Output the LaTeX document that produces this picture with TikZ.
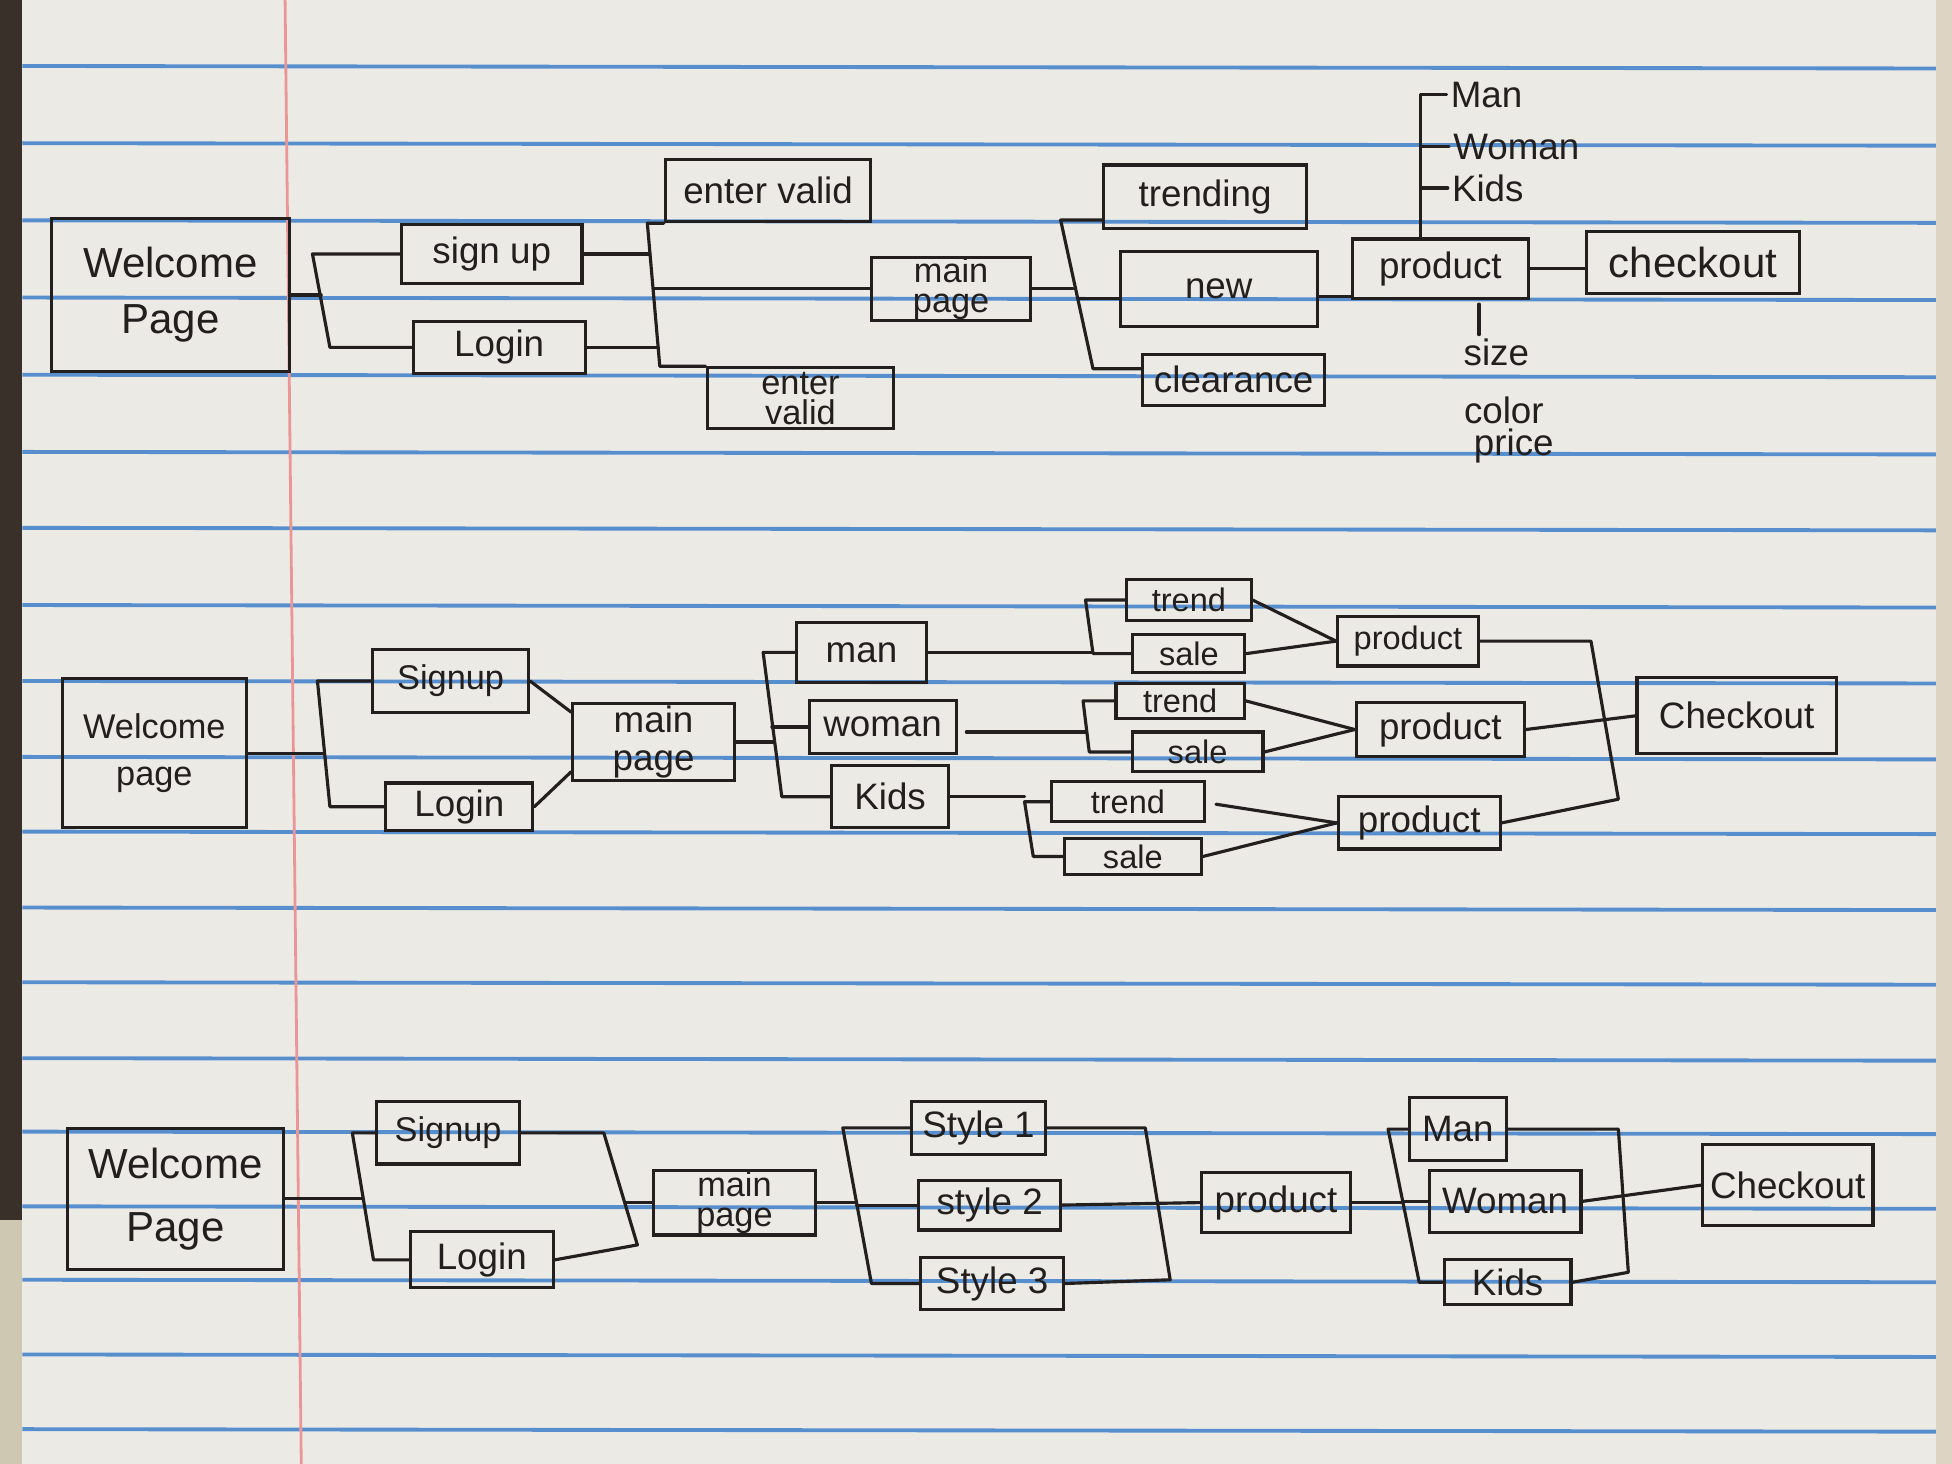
\documentclass[tikz,border=0pt]{standalone}
\usepackage{fontspec}
\setmainfont{Liberation Sans}
\usetikzlibrary{calc}
\definecolor{paper}{RGB}{236,234,229}
\definecolor{ink}{RGB}{34,31,30}
\definecolor{rulecol}{RGB}{86,142,206}
\definecolor{margincol}{RGB}{234,150,150}
\definecolor{edgedark}{RGB}{58,48,42}
\definecolor{edgelight}{RGB}{206,200,178}
\definecolor{edgeright}{RGB}{222,212,196}
\begin{document}
\begin{tikzpicture}[x=0.0125cm,y=-0.0125cm,
  box/.style={draw=ink, line width=0.9pt, align=center, inner sep=0pt, text=ink,
              font=\fontsize{10.5}{11}\selectfont},
  sz/.style 2 args={minimum width=#1*0.0125cm, minimum height=#2*0.0125cm},
  big/.style={font=\fontsize{12}{14}\selectfont},
  mid/.style={font=\fontsize{9.8}{10.5}\selectfont},
  two/.style={font=\fontsize{9.8}{8.6}\selectfont},
  small/.style={font=\fontsize{9.3}{10}\selectfont},
  lbl/.style={text=ink, inner sep=1pt, font=\fontsize{10.5}{12}\selectfont},
  conn/.style={draw=ink, line width=0.9pt, line join=round, line cap=round},
  ruled/.style={draw=rulecol, line width=1.1pt}]
\useasboundingbox (0,0) rectangle (1568,1176);
% ---------- paper ----------
\fill[paper] (0,0) rectangle (1568,1176);
\fill[edgedark] (0,0) rectangle (18,980);
\fill[edgelight] (0,980) rectangle (18,1176);
\fill[edgeright] (1555,0) rectangle (1568,1176);
\foreach \yy in {53,115,177,239,301,363,424,486,547,608,668,729,789,850,909,969,1028,1088,1148}
  \draw[ruled] (18,\yy) -- (1555,\yy+2);
\draw[margincol, line width=0.8pt] (229,0) -- (242,1176);

% ================= ROW 1 =================
\node[box,big,sz={191}{123}] (wel1) at (137,237) {Welcome\\[2pt]Page};
\node[box,sz={145}{48}] (su1) at (395,204) {sign up};
\node[box,sz={138}{42}] (li1) at (401,279) {Login};
\node[box,sz={165}{50}] (ev1) at (617,153) {enter valid};
\node[box,two,sz={150}{49}] (ev2) at (643,320) {enter\\valid};
\node[box,two,sz={128}{51}] (mp1) at (764,232) {main\\page};
\node[box,sz={163}{51}] (tr1) at (968,158) {trending};
\node[box,sz={158}{60}] (nw1) at (979,232) {new};
\node[box,sz={146}{41}] (cl1) at (991,305) {clearance};
\node[box,sz={141}{48}] (pr1) at (1157,216) {product};
\node[box,big,sz={171}{50}] (co1) at (1360,211) {checkout};
\node[lbl,anchor=west] (man1) at (1162,76) {Man};
\node[lbl,anchor=west] (wom1) at (1164,118) {Woman};
\node[lbl,anchor=west] (kid1) at (1163,151) {Kids};
\node[lbl] (size1) at (1202,283) {size};
\node[lbl] (color1) at (1208,330) {color};
\node[lbl] (price1) at (1216,358) {price};

\coordinate (k1t) at (251,0); \coordinate (k1m) at (258,0); \coordinate (k1b) at (265,0);
\draw[conn] (wel1.east) -- (wel1.east -| k1m);
\draw[conn] (su1.west) -- (su1.west -| k1t) -- (li1.west -| k1b) -- (li1.west);

\coordinate (k2t) at (520,0); \coordinate (k2b) at (530,0);
\coordinate (k2s) at (522,0); \coordinate (k2m) at (525,0); \coordinate (k2l) at (529,0);
\draw[conn] (su1.east) -- (su1.east -| k2s);
\draw[conn] (li1.east) -- (li1.east -| k2l);
\draw[conn] (ev1.south west) -- (ev1.south west -| k2t) -- (ev2.north west -| k2b) -- (ev2.north west);
\draw[conn] (mp1.west -| k2m) -- (mp1.west);

\coordinate (tr1a) at ($(tr1.south west)+(0,-8)$);
\coordinate (cl1a) at ($(cl1.north west)+(0,13)$);
\coordinate (nw1a) at ($(nw1.west)+(0,8)$);
\coordinate (k3t) at (852,0); \coordinate (k3b) at (878,0);
\coordinate (k3m) at (862,0); \coordinate (k3n) at (866,0);
\draw[conn] (tr1a) -- (tr1a -| k3t) -- (cl1a -| k3b) -- (cl1a);
\draw[conn] (mp1.east) -- (mp1.east -| k3m);
\draw[conn] (nw1a -| k3n) -- (nw1a);

\coordinate (nwe) at ($(nw1.east)+(0,6)$);
\draw[conn] (nwe) -- (nwe -| pr1.west);
\draw[conn] (pr1.east) -- (pr1.east -| co1.west);

\coordinate (pt) at ($(pr1.north west)+(56,0)$);
\draw[conn] (pt) -- (pt |- man1.west) -- (man1.west);
\draw[conn] (pt |- wom1.west) -- (wom1.west);
\draw[conn] (pt |- kid1.west) -- (kid1.west);
\coordinate (szp) at ($(pr1.south)+(31,3)$);
\draw[conn] (szp) -- (szp |- size1.north);

% ================= ROW 2 =================
\node[box,mid,sz={148}{120}] (wel2) at (124,605) {Welcome\\[3pt]page};
\node[box,mid,sz={125}{50}] (su2) at (362,547) {Signup};
\node[box,sz={118}{38}] (li2) at (369,648) {Login};
\node[box,sz={130}{62}] (mp2) at (525,596) {main\\page};
\node[box,sz={105}{48}] (mn2) at (692,524) {man};
\node[box,sz={118}{43}] (wm2) at (709,584) {woman};
\node[box,sz={94}{50}] (kd2) at (715,640) {Kids};
\node[box,small,sz={100}{33}] (ta) at (955,482) {trend};
\node[box,small,sz={90}{30}] (sa) at (955,525) {sale};
\node[box,small,sz={103}{28}] (tb) at (948,563) {trend};
\node[box,small,sz={105}{32}] (sb) at (962,604) {sale};
\node[box,small,sz={123}{32}] (tc) at (906,644) {trend};
\node[box,small,sz={110}{29}] (sc) at (910,688) {sale};
\node[box,small,sz={113}{40}] (p2a) at (1131,515) {product};
\node[box,sz={135}{43}] (p2b) at (1157,586) {product};
\node[box,sz={130}{42}] (p2c) at (1140,661) {product};
\node[box,sz={160}{61}] (co2) at (1395,575) {Checkout};

\coordinate (k4t) at (255,0); \coordinate (k4m) at (260,0); \coordinate (k4b) at (265,0);
\draw[conn] (wel2.east) -- (wel2.east -| k4m);
\draw[conn] (su2.west) -- (su2.west -| k4t) -- (li2.west -| k4b) -- (li2.west);
\coordinate (mp2a) at ($(mp2.west)+(0,-24)$);
\coordinate (mp2b) at ($(mp2.west)+(0,24)$);
\draw[conn] (su2.east) -- (mp2a);
\draw[conn] (li2.east) -- (mp2b);

\coordinate (k5t) at (613,0); \coordinate (k5b) at (628,0);
\coordinate (k5m) at (622,0); \coordinate (k5w) at (620,0);
\draw[conn] (mn2.west) -- (mn2.west -| k5t) -- (kd2.west -| k5b) -- (kd2.west);
\draw[conn] (mp2.east) -- (mp2.east -| k5m);
\draw[conn] (wm2.west -| k5w) -- (wm2.west);

\coordinate (k6t) at (872,0); \coordinate (k6b) at (878,0);
\draw[conn] (ta.west) -- (ta.west -| k6t) -- (sa.west -| k6b) -- (sa.west);
\draw[conn] (mn2.east) -- (mn2.east -| k6b);
\coordinate (k7t) at (870,0); \coordinate (k7b) at (875,0); \coordinate (k7m) at (872,0);
\draw[conn] (tb.west) -- (tb.west -| k7t) -- (sb.west -| k7b) -- (sb.west);
\coordinate (wme) at ($(wm2.east)+(7,4)$);
\draw[conn] (wme) -- (wme -| k7m);
\coordinate (k8t) at (823,0); \coordinate (k8b) at (830,0);
\draw[conn] (tc.west) -- (tc.west -| k8t) -- (sc.west -| k8b) -- (sc.west);
\draw[conn] (kd2.east) -- (kd2.east -| k8t);

\draw[conn] (ta.east) -- (p2a.west);
\draw[conn] (sa.east) -- (p2a.west);
\draw[conn] (tb.east) -- (p2b.west);
\draw[conn] (sb.east) -- (p2b.west);
\coordinate (tce) at ($(tc.east)+(8,2)$);
\draw[conn] (tce) -- (p2c.west);
\draw[conn] (sc.east) -- (p2c.west);

\coordinate (r2tx) at (1278,0);
\coordinate (r2b) at (1300,642);
\draw[conn] (p2a.east) -- (p2a.east -| r2tx) -- (r2b) -- (p2c.east);
\draw[conn] (p2b.east) -- (co2.west);

% ================= ROW 3 =================
\node[box,big,sz={173}{113}] (wel3) at (141,963) {Welcome\\[4pt]Page};
\node[box,mid,sz={115}{50}] (su3) at (360,910) {Signup};
\node[box,sz={115}{45}] (li3) at (387,1012) {Login};
\node[box,two,sz={130}{52}] (mp3) at (590,966) {main\\page};
\node[box,sz={107}{43}] (s1) at (786,906) {Style 1};
\node[box,sz={114}{40}] (s2) at (795,968) {style 2};
\node[box,sz={115}{42}] (s3) at (797,1031) {Style 3};
\node[box,sz={120}{48}] (p3) at (1025,966) {product};
\node[box,sz={78}{51}] (m3) at (1171,907) {Man};
\node[box,sz={122}{50}] (w3) at (1209,965) {Woman};
\node[box,sz={102}{36}] (kd3) at (1211,1030) {Kids};
\node[box,sz={137}{65}] (c3) at (1436,952) {Checkout};

\coordinate (k9t) at (283,0); \coordinate (k9m) at (291,0); \coordinate (k9b) at (300,0);
\draw[conn] (wel3.east) -- (wel3.east -| k9m);
\draw[conn] (su3.west) -- (su3.west -| k9t) -- (li3.west -| k9b) -- (li3.west);

\coordinate (r3a) at (485,0);
\coordinate (r3b) at (512,1000);
\coordinate (r3m) at (502,966);
\draw[conn] (su3.east) -- (su3.east -| r3a) -- (r3b) -- (li3.east);
\draw[conn] (r3m) -- (mp3.west);

\coordinate (k10t) at (677,0); \coordinate (k10m) at (688,0); \coordinate (k10b) at (700,0);
\draw[conn] (s1.west) -- (s1.west -| k10t) -- (s3.west -| k10b) -- (s3.west);
\draw[conn] (mp3.east) -- (mp3.east -| k10m);
\draw[conn] (s2.west -| k10m) -- (s2.west);

\coordinate (r5t) at (920,0);
\coordinate (r5b) at (940,1028);
\draw[conn] (s1.east) -- (s1.east -| r5t) -- (r5b) -- (s3.east);
\draw[conn] (s2.east) -- (p3.west);

\coordinate (k11t) at (1115,0); \coordinate (k11m) at (1127,0); \coordinate (k11b) at (1140,0);
\draw[conn] (m3.west) -- (m3.west -| k11t) -- (kd3.west -| k11b) -- (kd3.west);
\draw[conn] (p3.east) -- (p3.east -| k11m);
\draw[conn] (w3.west -| k11m) -- (w3.west);

\coordinate (r6t) at (1300,0);
\coordinate (r6b) at (1308,1022);
\draw[conn] (m3.east) -- (m3.east -| r6t) -- (r6b) -- (kd3.east);
\draw[conn] (w3.east) -- (c3.west);
\end{tikzpicture}
\end{document}
